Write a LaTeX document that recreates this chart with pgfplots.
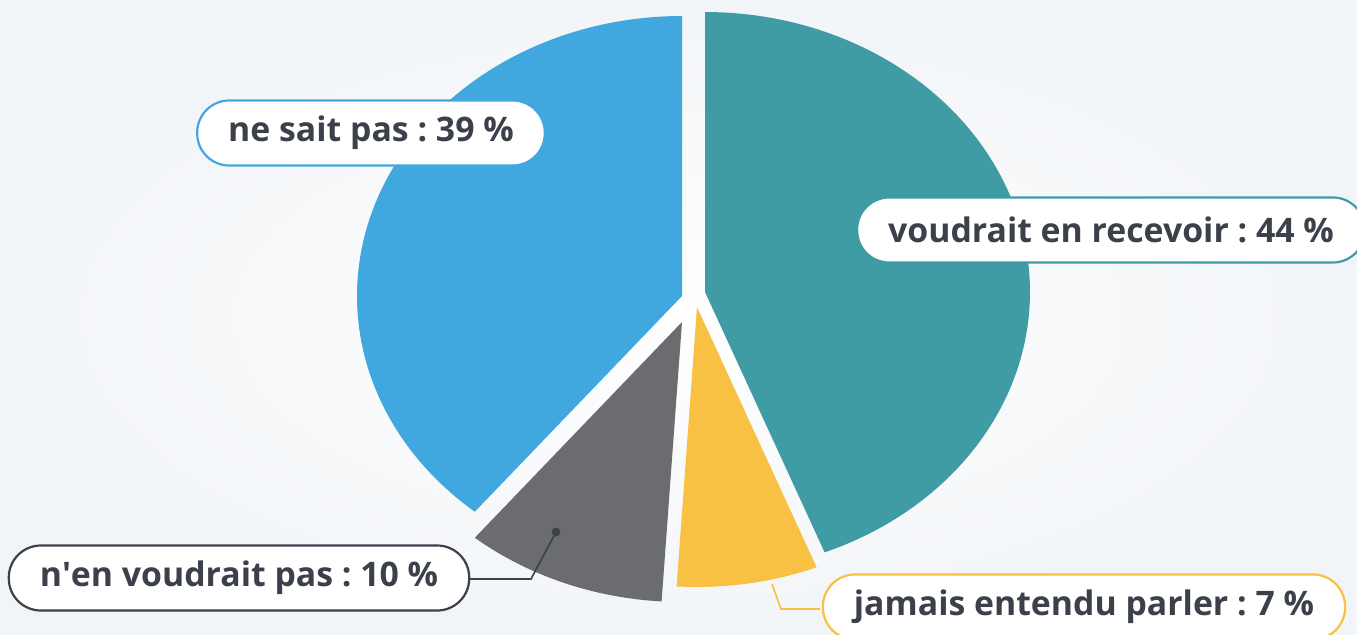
\documentclass[border=0pt]{standalone}
\usepackage{pgfplots}
\pgfplotsset{compat=1.18}
\usepackage{fontspec}
\setmainfont{Open Sans}
\frenchspacing
\definecolor{cteal}{HTML}{3F9BA4}
\definecolor{cblue}{HTML}{41A8DF}
\definecolor{cgray}{HTML}{6B6C70}
\definecolor{cyel}{HTML}{F8C144}
\definecolor{ctext}{HTML}{3C404A}
\definecolor{bgc}{HTML}{F2F5F8}
% shares in percent
\def\pA{44}% voudrait en recevoir
\def\pB{7}%  jamais entendu parler
\def\pC{10}% n'en voudrait pas
\def\pD{39}% ne sait pas
\pgfmathsetmacro\aA{90-3.6*\pA}
\pgfmathsetmacro\aB{\aA-3.6*\pB}
\pgfmathsetmacro\aC{\aB-3.6*\pC}
\pgfmathsetmacro\aD{\aC-3.6*\pD}
\tikzset{pill/.style={draw, fill=white, line width=1.1pt, rounded corners=16pt,
    minimum height=32.5pt, inner xsep=15.5pt, text=ctext,
    font=\bfseries\frenchspacing\fontsize{16.9}{20}\selectfont}}
\begin{document}
\begin{tikzpicture}
\useasboundingbox (0,0) rectangle (678.5pt,317pt);
\shade[inner color=white, outer color=bgc] (0,0) rectangle (678.5pt,317pt);
\begin{axis}[
  at={(0,0)}, anchor=south west,
  hide axis, scale only axis,
  width=678.5pt, height=317pt,
  xmin=0, xmax=1357, ymin=0, ymax=634,
  clip=false,
]
\addplot[fill=cteal, draw=none, domain=\aA:90, samples=120]
  ({705+325*cos(x)},{342+280*sin(x)}) -- (705,342) -- cycle;
\addplot[fill=cyel, draw=none, domain=\aB:\aA, samples=40]
  ({697+325*cos(x)},{327+280*sin(x)}) -- (697,327) -- cycle;
\addplot[fill=cgray, draw=none, domain=\aC:\aB, samples=40]
  ({682+325*cos(x)},{312+280*sin(x)}) -- (682,312) -- cycle;
\addplot[fill=cblue, draw=none, domain=\aD:\aC, samples=120]
  ({682+325*cos(x)},{338+280*sin(x)}) -- (682,338) -- cycle;
% leader lines
\draw[ctext, line width=0.8pt] (556,102) -- (531,55) -- (470,55);
\fill[ctext] (556,102) circle (2.2pt);
\draw[cyel, line width=0.8pt] (772,50) -- (781,25) -- (820,25);
% labels
\node[pill, draw=cblue] at (371,501) {ne sait pas : \pD\ \%};
\node[pill, draw=cteal] at (1111,404) {voudrait en recevoir : \pA\ \%};
\node[pill, draw=ctext] at (239,56) {n\textquotesingle en voudrait pas : \pC\ \%};
\node[pill, draw=cyel] at (1084,27) {jamais entendu parler : \pB\ \%};
\end{axis}
\end{tikzpicture}
\end{document}
